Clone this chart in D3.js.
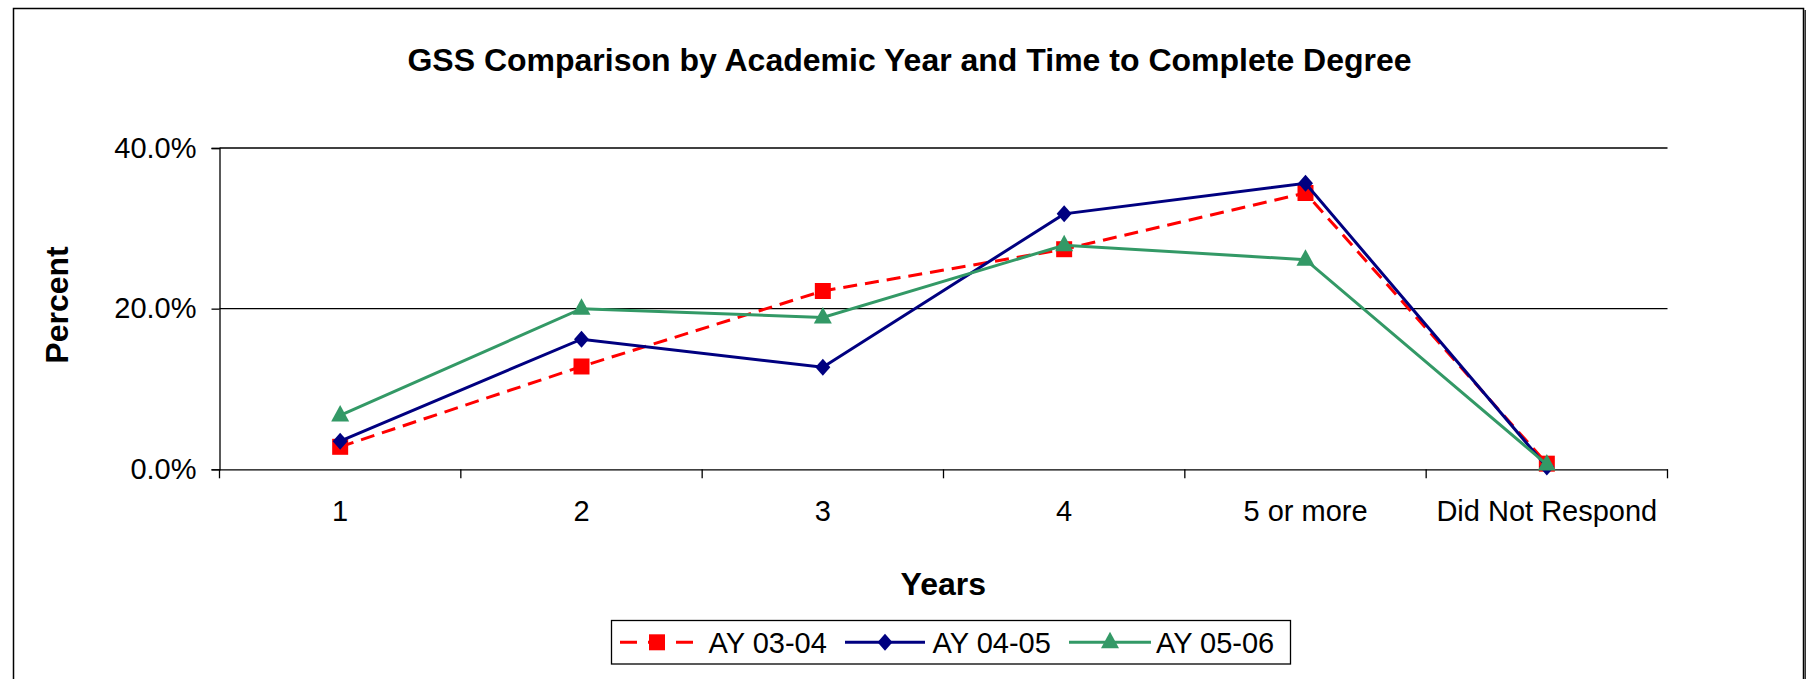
<!DOCTYPE html>
<html>
<head>
<meta charset="utf-8">
<script src="https://cdn.jsdelivr.net/npm/d3@7"></script>
<style>
  html, body { margin: 0; padding: 0; background: #fff; }
  svg { display: block; }
  text { font-family: "Liberation Sans", Arial, sans-serif; fill: #000; }
</style>
</head>
<body>
<svg id="chart" width="1806" height="679"></svg>
<script>
const categories = ["1", "2", "3", "4", "5 or more", "Did Not Respond"];
const seriesNames = ["AY 03-04", "AY 04-05", "AY 05-06"];
const ay0304 = [2.8, 12.8, 22.2, 27.4, 34.4, 0.7];
const ay0405 = [3.5, 16.2, 12.7, 31.8, 35.6, 0.3];
const ay0506 = [6.7, 20.0, 18.9, 27.9, 26.1, 0.6];
const yTicks = [0, 20, 40];
const chartTitle = "GSS Comparison by Academic Year and Time to Complete Degree";
const xTitle = "Years";
const yTitle = "Percent";

const series = [
  { name: seriesNames[0], values: ay0304, color: "#FF0000", dash: "14,8", marker: "square" },
  { name: seriesNames[1], values: ay0405, color: "#000080", dash: null, marker: "diamond" },
  { name: seriesNames[2], values: ay0506, color: "#339966", dash: null, marker: "triangle" }
];

const svg = d3.select("#chart");
const W = 1806, H = 679;
const plot = { left: 219.5, right: 1667.5, top: 148, bottom: 469.3 };

// chart border
svg.append("rect").attr("x", 13.5).attr("y", 8.5).attr("width", 1790).attr("height", 700)
  .attr("fill", "#fff").attr("stroke", "#000").attr("stroke-width", 1.5);
svg.append("line").attr("x1", 1805.2).attr("x2", 1805.2).attr("y1", 10).attr("y2", H)
  .attr("stroke", "#333").attr("stroke-width", 1.6);

const x = d3.scaleBand().domain(categories).range([plot.left, plot.right]).padding(0);
const y = d3.scaleLinear().domain([0, 40]).range([plot.bottom, plot.top]);
const cx = c => x(c) + x.bandwidth() / 2;

// title
svg.append("text").attr("x", 909.5).attr("y", 70.7).attr("text-anchor", "middle")
  .style("font-size", "32px").style("font-weight", "bold").text(chartTitle);

// gridlines
svg.append("g").selectAll("line").data(yTicks.filter(d => d > 0)).join("line")
  .attr("x1", plot.left).attr("x2", plot.right)
  .attr("y1", d => y(d)).attr("y2", d => y(d))
  .attr("stroke", "#000").attr("stroke-width", 1.3);

// y axis
const yAxis = svg.append("g").attr("transform", `translate(${plot.left},0)`)
  .call(d3.axisLeft(y).tickValues(yTicks).tickSize(8).tickPadding(15)
    .tickFormat(d => d.toFixed(1) + "%"));
yAxis.select(".domain").attr("stroke", "#000").attr("stroke-width", 1.3);
yAxis.selectAll(".tick line").attr("stroke", "#000").attr("stroke-width", 1.3);
yAxis.selectAll(".tick text").style("font-size", "29px")
  .style("font-family", "'Liberation Sans', Arial, sans-serif").attr("fill", "#000");

// x axis
const xAxis = svg.append("g").attr("transform", `translate(0,${plot.bottom})`)
  .call(d3.axisBottom(x).tickSize(0).tickPadding(0));
xAxis.select(".domain").attr("stroke", "#000").attr("stroke-width", 1.3);
xAxis.selectAll(".tick text").attr("y", 51.4).attr("dy", null)
  .style("font-size", "29px").style("font-family", "'Liberation Sans', Arial, sans-serif")
  .attr("fill", "#000");
// band boundary ticks
const bounds = categories.map(c => x(c)).concat([x(categories[categories.length - 1]) + x.bandwidth()]);
svg.append("g").selectAll("line").data(bounds).join("line")
  .attr("x1", d => d).attr("x2", d => d)
  .attr("y1", plot.bottom).attr("y2", plot.bottom + 9)
  .attr("stroke", "#000").attr("stroke-width", 1.3);

// axis titles
svg.append("text").attr("x", 943.3).attr("y", 595.3).attr("text-anchor", "middle")
  .style("font-size", "32px").style("font-weight", "bold").text(xTitle);
svg.append("text").attr("transform", "translate(68.3,305) rotate(-90)")
  .attr("text-anchor", "middle").style("font-size", "32px").style("font-weight", "bold").text(yTitle);

// markers
function markerPath(type) {
  if (type === "square") return "M-8,-8H8V8H-8Z";
  if (type === "diamond") return "M0,-8.5L7.5,0L0,8.5L-7.5,0Z";
  return "M0,-10.5L9,6L-9,6Z";
}

const line = d3.line().x((d, i) => cx(categories[i])).y(d => y(d));

series.forEach(s => {
  const g = svg.append("g");
  g.append("path").datum(s.values).attr("d", line)
    .attr("fill", "none").attr("stroke", s.color).attr("stroke-width", 3)
    .attr("stroke-dasharray", s.dash);
  g.selectAll("path.m").data(s.values).join("path").attr("class", "m")
    .attr("transform", (d, i) => `translate(${cx(categories[i])},${y(d)})`)
    .attr("d", markerPath(s.marker)).attr("fill", s.color);
});

// legend
const leg = svg.append("g");
leg.append("rect").attr("x", 611.5).attr("y", 620.5).attr("width", 679).attr("height", 43.5)
  .attr("fill", "#fff").attr("stroke", "#000").attr("stroke-width", 1.3);
const legItems = [
  { x1: 620, x2: 694, tx: 708.6 },
  { x1: 845, x2: 925, tx: 932.6 },
  { x1: 1069, x2: 1151, tx: 1156 }
];
series.forEach((s, i) => {
  const it = legItems[i];
  const ly = 642.3;
  leg.append("line").attr("x1", it.x1).attr("x2", it.x2).attr("y1", ly).attr("y2", ly)
    .attr("stroke", s.color).attr("stroke-width", 3).attr("stroke-dasharray", s.dash ? "17,11" : null);
  leg.append("path").attr("transform", `translate(${(it.x1 + it.x2) / 2},${ly})`)
    .attr("d", markerPath(s.marker)).attr("fill", s.color);
  leg.append("text").attr("x", it.tx).attr("y", 652.8).style("font-size", "29px").text(s.name);
});
</script>
</body>
</html>
